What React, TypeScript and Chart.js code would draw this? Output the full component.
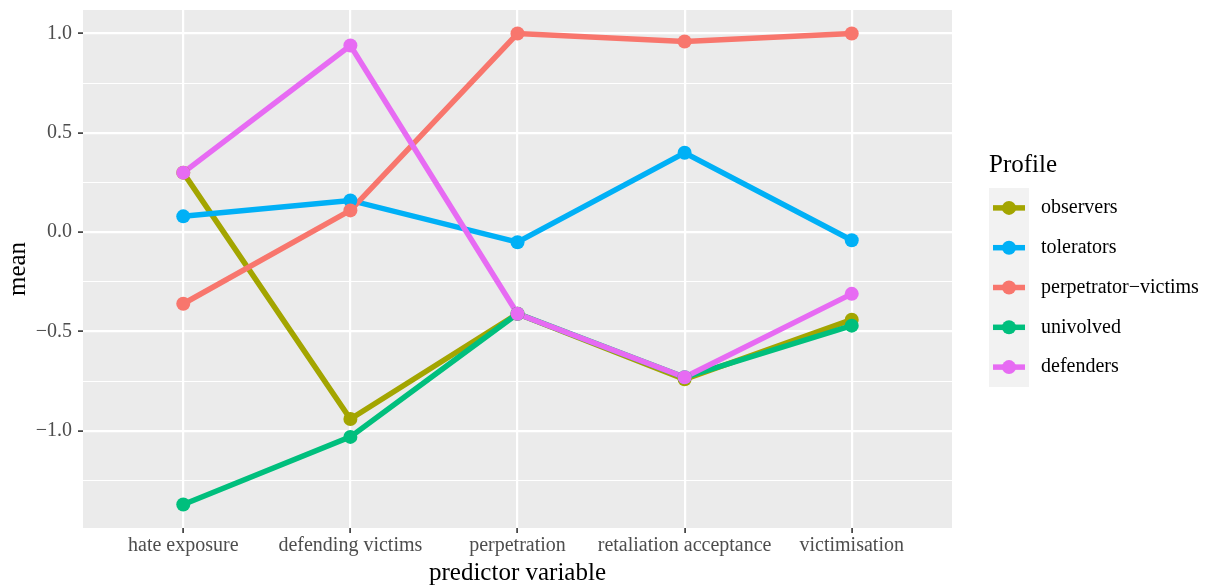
import React, { useEffect, useRef } from "react";
import { Chart, registerables } from "chart.js";

Chart.register(...registerables);

const categories = [
  "hate exposure",
  "defending victims",
  "perpetration",
  "retaliation acceptance",
  "victimisation",
];

const profileNames = ["observers", "tolerators", "perpetrator\u2212victims", "univolved", "defenders"];
const profileColors = ["#A3A500", "#00B0F6", "#F8766D", "#00BF7D", "#E76BF3"];

const observers = [0.3, -0.94, -0.41, -0.74, -0.44];
const tolerators = [0.08, 0.16, -0.05, 0.4, -0.04];
const perpetratorVictims = [-0.36, 0.11, 1.0, 0.96, 1.0];
const univolved = [-1.37, -1.03, -0.41, -0.73, -0.47];
const defenders = [0.3, 0.94, -0.41, -0.73, -0.31];

const seriesValues = [observers, tolerators, perpetratorVictims, univolved, defenders];

const yTickValues = [-1.25, -1.0, -0.75, -0.5, -0.25, 0, 0.25, 0.5, 0.75, 1.0];

const SERIF = "'Liberation Serif', 'Times New Roman', serif";

const isMajor = (v: number) => Math.abs(v * 2 - Math.round(v * 2)) < 1e-9;

const legendPlugin = {
  id: "ggLegend",
  beforeDraw(chart: any) {
    const { ctx, chartArea } = chart;
    ctx.save();
    ctx.fillStyle = "#FFFFFF";
    ctx.fillRect(0, 0, chart.width, chart.height);
    ctx.fillStyle = "#EBEBEB";
    ctx.fillRect(chartArea.left, chartArea.top, chartArea.right - chartArea.left, chartArea.bottom - chartArea.top);
    ctx.restore();
  },
  afterDraw(chart: any) {
    const { ctx } = chart;
    const x0 = 989;
    const keyTop = 188;
    const keyH = 39.8;
    const keyW = 40;
    ctx.save();
    ctx.fillStyle = "#000000";
    ctx.font = `25px ${SERIF}`;
    ctx.textAlign = "left";
    ctx.textBaseline = "middle";
    ctx.fillText("Profile", x0, 165);
    ctx.fillStyle = "#F2F2F2";
    ctx.fillRect(x0, keyTop, keyW, keyH * profileNames.length);
    profileNames.forEach((name, i) => {
      const cy = keyTop + keyH * (i + 0.5);
      ctx.strokeStyle = profileColors[i];
      ctx.lineWidth = 5.5;
      ctx.lineCap = "butt";
      ctx.beginPath();
      ctx.moveTo(x0 + 4, cy);
      ctx.lineTo(x0 + keyW - 4, cy);
      ctx.stroke();
      ctx.fillStyle = profileColors[i];
      ctx.beginPath();
      ctx.arc(x0 + keyW / 2, cy, 7, 0, Math.PI * 2);
      ctx.fill();
      ctx.fillStyle = "#000000";
      ctx.font = `20px ${SERIF}`;
      ctx.fillText(name, 1041, cy);
    });
    ctx.restore();
  },
};

export default function App() {
  const ref = useRef<HTMLCanvasElement | null>(null);

  useEffect(() => {
    if (!ref.current) return;
    const all = seriesValues.flat();
    const dMin = Math.min(...all);
    const dMax = Math.max(...all);
    const pad = (dMax - dMin) * 0.05;

    const n = profileNames.length;
    const lineSets = seriesValues.map((vals, i) => ({
      label: profileNames[i],
      data: vals.map((v, j) => ({ x: j, y: v })),
      borderColor: profileColors[i],
      backgroundColor: profileColors[i],
      borderWidth: 5.5,
      pointRadius: 0,
      pointHoverRadius: 0,
      showLine: true,
      tension: 0,
      order: 2 * n - 1 - i,
    }));
    const pointSets = seriesValues.map((vals, i) => ({
      label: profileNames[i] + " points",
      data: vals.map((v, j) => ({ x: j, y: v })),
      borderColor: profileColors[i],
      backgroundColor: profileColors[i],
      borderWidth: 0,
      pointRadius: 7,
      pointBorderWidth: 0,
      showLine: false,
      order: n - 1 - i,
    }));

    const chart = new Chart(ref.current, {
      type: "scatter",
      data: { datasets: [...lineSets, ...pointSets] as any },
      plugins: [legendPlugin],
      options: {
        animation: false,
        responsive: false,
        devicePixelRatio: 1,
        events: [],
        layout: { padding: { top: 10, right: 262, bottom: 0, left: 0 } },
        plugins: {
          legend: { display: false },
          tooltip: { enabled: false },
          title: { display: false },
        },
        scales: {
          x: {
            type: "linear",
            min: -0.6,
            max: categories.length - 1 + 0.6,
            afterBuildTicks: (scale: any) => {
              scale.ticks = categories.map((_, i) => ({ value: i }));
            },
            afterFit: (scale: any) => {
              scale.height = 58;
              scale.paddingLeft = 0;
              scale.paddingRight = 0;
            },
            border: { display: false },
            grid: {
              color: "#FFFFFF",
              lineWidth: 2.2,
              drawTicks: true,
              tickLength: 5,
              tickColor: "#333333",
              tickWidth: 1.6,
            },
            ticks: {
              autoSkip: false,
              maxRotation: 0,
              padding: 1,
              color: "#4D4D4D",
              font: { family: SERIF, size: 20 },
              callback: (v: any) => categories[Math.round(Number(v))] ?? "",
            },
            title: {
              display: true,
              text: "predictor variable",
              color: "#000000",
              font: { family: SERIF, size: 25, lineHeight: 1 },
              padding: { top: 0, bottom: 0.5 },
            },
          },
          y: {
            type: "linear",
            min: dMin - pad,
            max: dMax + pad,
            afterBuildTicks: (scale: any) => {
              scale.ticks = yTickValues.map((v) => ({ value: v }));
            },
            afterFit: (scale: any) => {
              scale.width = 83;
              scale.paddingTop = 0;
              scale.paddingBottom = 0;
            },
            border: { display: false },
            grid: {
              color: "#FFFFFF",
              lineWidth: (c: any) => (c.tick && isMajor(c.tick.value) ? 2.2 : 1.1),
              drawTicks: true,
              tickLength: 5,
              tickColor: (c: any) => (c.tick && isMajor(c.tick.value) ? "#333333" : "rgba(0,0,0,0)"),
              tickWidth: 1.6,
            },
            ticks: {
              autoSkip: false,
              padding: 6,
              color: "#4D4D4D",
              font: { family: SERIF, size: 20 },
              callback: (v: any) => {
                const num = Number(v);
                if (!isMajor(num)) return "";
                return num.toFixed(1).replace("-", "\u2212");
              },
            },
            title: {
              display: true,
              text: "mean",
              color: "#000000",
              font: { family: SERIF, size: 25, lineHeight: 1.2 },
              padding: { top: 3, bottom: 0 },
            },
          },
        },
      } as any,
    });
    return () => chart.destroy();
  }, []);

  return (
    <div style={{ position: "absolute", left: 0, top: 0, width: 1214, height: 586, background: "#FFFFFF" }}>
      <canvas ref={ref} width={1214} height={586} style={{ display: "block" }} />
    </div>
  );
}
